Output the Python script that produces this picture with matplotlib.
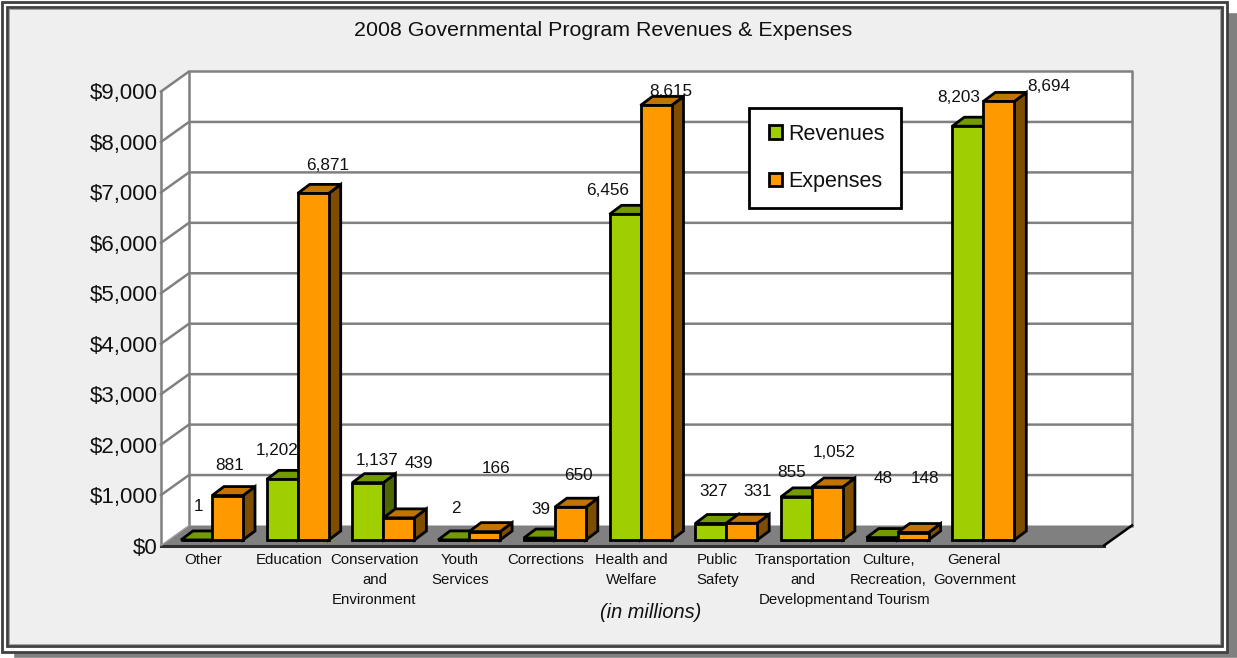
import matplotlib
matplotlib.use('Agg')
import matplotlib.pyplot as plt
from matplotlib.patches import Polygon, Rectangle, Patch

plt.rcParams['font.family'] = ['Liberation Sans', 'DejaVu Sans']

# Chart data (in millions)
categories = ['Other', 'Education', 'Conservation\nand\nEnvironment', 'Youth\nServices',
              'Corrections', 'Health and\nWelfare', 'Public\nSafety',
              'Transportation\nand\nDevelopment', 'Culture,\nRecreation,\nand Tourism',
              'General\nGovernment']
revenues = [1, 1202, 1137, 2, 39, 6456, 327, 855, 48, 8203]
expenses = [881, 6871, 439, 166, 650, 8615, 331, 1052, 148, 8694]
y_ticks = [0, 1000, 2000, 3000, 4000, 5000, 6000, 7000, 8000, 9000]
y_tick_labels = ['$0', '$1,000', '$2,000', '$3,000', '$4,000', '$5,000',
                 '$6,000', '$7,000', '$8,000', '$9,000']

# Label nudges in pixels, relative to the top middle of each bar front
rev_offsets = [(2, 33), (-5, 29), (9, 22), (2, 31), (2, 29), (-17, 24), (3, 32), (-5, 24), (1, 59), (-9, 29)]
exp_offsets = [(2, 30), (14, 28), (20, 54), (12, 63), (8, 32), (15, 14), (16, 32), (7, 34), (12, 54), (50, 15)]

W, H = 1237, 658
PX_X = 85.7           # pixels per category
PX_Y = 454 / 9000     # pixels per dollar
WALL_DX, WALL_DY = 28 / PX_X, 20 / PX_Y
BAR_DX, BAR_DY = 12 / PX_X, 9 / PX_Y
BAR_W = 31 / PX_X
BAR_START = 20 / PX_X
BAR_LIFT = 5.5 / PX_Y

GRID = '#808080'
REV_COLORS = ('#9FCF00', '#739A00', '#4D6600')
EXP_COLORS = ('#FF9900', '#C27400', '#7F4D00')

fig = plt.figure(figsize=(W / 100, H / 100), dpi=100, facecolor='white')

# Frame and drop shadow, drawn in pixel coordinates
bg = fig.add_axes([0, 0, 1, 1], zorder=0)
bg.set_xlim(0, W)
bg.set_ylim(H, 0)
bg.axis('off')
bg.add_patch(Rectangle((13, 12), W - 12, H - 12, fc=GRID, ec='white', lw=1))
bg.add_patch(Rectangle((1.5, 1.5), 1225, 650, fc='white', ec='#404040', lw=2))
bg.add_patch(Rectangle((7, 7), 1215, 639, fc='#EFEFEF', ec='#404040', lw=2))
bg.add_patch(Rectangle((9, 9), 1211, 635, fc='none', ec='#A0A0A0', lw=0.7))

# Plot axes cover the front plane of the chart box
ax = fig.add_axes([161 / W, 1 - 545.5 / H, 943 / W, 454 / H], zorder=1)
ax.patch.set_alpha(0)
ax.set_xlim(0, 943 / PX_X)
ax.set_ylim(0, 9000)
for s in ax.spines.values():
    s.set_visible(False)


def poly(pts, fc, ec='black', lw=2, z=2):
    ax.add_patch(Polygon(pts, closed=True, fc=fc, ec=ec, lw=lw, zorder=z,
                         joinstyle='miter', clip_on=False))


x_end = ax.get_xlim()[1]

# Walls and floor
poly([(0, 0), (WALL_DX, WALL_DY), (WALL_DX, 9000 + WALL_DY), (0, 9000)], 'white', 'none', 0, 1)
poly([(WALL_DX, WALL_DY), (x_end + WALL_DX, WALL_DY), (x_end + WALL_DX, 9000 + WALL_DY),
      (WALL_DX, 9000 + WALL_DY)], 'white', 'none', 0, 1)
for t in y_ticks[1:]:
    ax.plot([0, WALL_DX, x_end + WALL_DX], [t, t + WALL_DY, t + WALL_DY], color=GRID, lw=1.8,
            zorder=1.5, clip_on=False, solid_joinstyle='miter')
ax.plot([0, 0], [0, 9000], color=GRID, lw=1.8, zorder=1.5, clip_on=False)
ax.plot([WALL_DX, WALL_DX], [0, 9000 + WALL_DY], color=GRID, lw=1.8, zorder=1.5, clip_on=False)
ax.plot([x_end + WALL_DX] * 2, [WALL_DY, 9000 + WALL_DY], color=GRID, lw=1.8, zorder=1.5, clip_on=False)
poly([(0, 0), (WALL_DX, WALL_DY), (x_end + WALL_DX, WALL_DY), (x_end, 0)], GRID, 'none', 0, 1.6)
ax.plot([0, x_end], [0, 0], color='#303030', lw=2.2, zorder=1.7, clip_on=False)
ax.plot([x_end, x_end + WALL_DX], [0, WALL_DY], color='black', lw=1.8, zorder=1.7, clip_on=False)
ax.plot([0, WALL_DX], [0, WALL_DY], color='#A0A0A0', lw=1, zorder=1.7, clip_on=False)


def draw_bar(x, value, colors, z):
    b = BAR_LIFT
    t = BAR_LIFT + value
    # side, top, then front
    poly([(x + BAR_W, b), (x + BAR_W + BAR_DX, b + BAR_DY), (x + BAR_W + BAR_DX, t + BAR_DY),
          (x + BAR_W, t)], colors[2], z=z)
    poly([(x, t), (x + BAR_DX, t + BAR_DY), (x + BAR_W + BAR_DX, t + BAR_DY), (x + BAR_W, t)],
         colors[1], z=z)
    poly([(x, b), (x + BAR_W, b), (x + BAR_W, t), (x, t)], colors[0], z=z)


for i in range(len(categories)):
    x_rev = i + BAR_START
    x_exp = x_rev + BAR_W
    draw_bar(x_rev, revenues[i], REV_COLORS, 3 + i * 0.1)
    draw_bar(x_exp, expenses[i], EXP_COLORS, 3.05 + i * 0.1)
    for x, v, off in ((x_rev, revenues[i], rev_offsets[i]), (x_exp, expenses[i], exp_offsets[i])):
        ax.annotate(f'{v:,}', (x + BAR_W / 2, v + BAR_LIFT), xytext=off, textcoords='offset pixels',
                    ha='center', va='center', fontsize=12.3, color='#111111', zorder=6,
                    annotation_clip=False)

# Axis ticks
ax.set_yticks(y_ticks)
ax.set_yticklabels(y_tick_labels, fontsize=16, color='#111111')
ax.set_xticks([i + 42 / PX_X for i in range(len(categories))])
ax.set_xticklabels(categories, fontsize=10.8, color='#111111', linespacing=1.53)
ax.tick_params(axis='both', length=0)
ax.tick_params(axis='y', pad=2.3)
ax.tick_params(axis='x', pad=5.5)

# Legend box is drawn separately so its size can follow the reference
ax.add_patch(Rectangle((749 / W, 1 - 208 / H), 152 / W, 100 / H, transform=fig.transFigure,
                       fc='white', ec='black', lw=2, zorder=6.9, clip_on=False))
leg = ax.legend(handles=[Patch(fc=REV_COLORS[0], ec='black', lw=2, label='Revenues'),
                         Patch(fc=EXP_COLORS[0], ec='black', lw=2, label='Expenses')],
                loc='upper left', bbox_to_anchor=(769 / W, 1 - 123.5 / H), bbox_transform=fig.transFigure,
                fontsize=15.5, frameon=False, handlelength=0.6, handleheight=0.6, handletextpad=0.3,
                labelspacing=1.24, borderpad=0, borderaxespad=0, labelcolor='#111111')
leg.set_zorder(7)

fig.text(603.5 / W, 1 - 31 / H, '2008 Governmental Program Revenues & Expenses', ha='center',
         va='center', fontsize=15.4, color='#111111')
fig.text(650.5 / W, 1 - 612.5 / H, '(in millions)', ha='center', va='center', fontsize=14.4,
         style='italic', color='#111111')

fig.savefig('out.png', dpi=100)
